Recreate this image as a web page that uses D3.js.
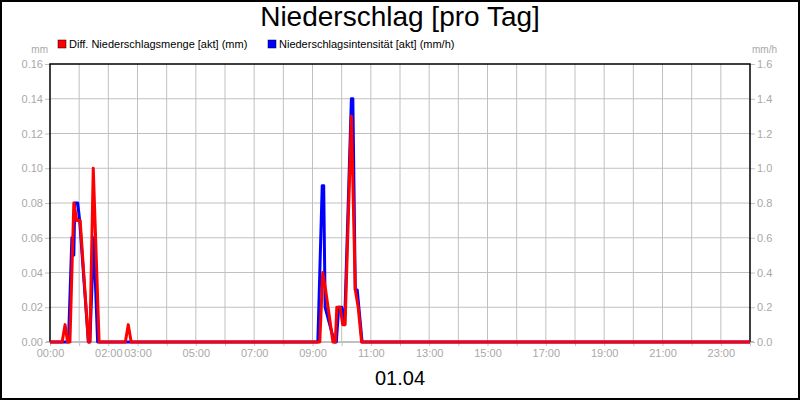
<!DOCTYPE html>
<html>
<head>
<meta charset="utf-8">
<script src="https://cdn.jsdelivr.net/npm/d3@7"></script>
<style>
  body { margin: 0; background: #fff; }
  svg { display: block; font-family: "Liberation Sans", Arial, sans-serif; }
</style>
</head>
<body>
<div id="chart"></div>
<script>
// tick labels
const xTickLabels = ["00:00", "02:00", "03:00", "05:00", "07:00", "09:00", "11:00",
    "13:00", "15:00", "17:00", "19:00", "21:00", "23:00"];
const yLeftTicks = [0, 0.02, 0.04, 0.06, 0.08, 0.10, 0.12, 0.14, 0.16];
const yRightTicks = [0, 0.2, 0.4, 0.6, 0.8, 1.0, 1.2, 1.4, 1.6];

// Diff. Niederschlagsmenge (mm)
const amountTimes = ["00:00", "00:25", "00:31", "00:36", "00:41", "00:49", "00:55", "01:02",
    "01:19", "01:22", "01:29", "01:41", "02:35", "02:41", "02:47",
    "09:15", "09:21", "09:27", "09:42", "09:47", "09:50", "09:57", "10:02", "10:07",
    "10:20", "10:28", "10:34", "10:41", "24:00"];
const amountValues = [0, 0, 0.01, 0, 0, 0.08, 0.07, 0.07,
    0, 0, 0.10, 0, 0, 0.01, 0,
    0, 0.04, 0.03, 0, 0, 0.02, 0.02, 0.01, 0.01,
    0.13, 0.03, 0.02, 0, 0];

// Niederschlagsintensität (mm/h)
const intensityTimes = ["00:00", "00:38", "00:45", "00:49", "00:51", "00:57", "01:01",
    "01:19", "01:22", "01:30", "01:38",
    "09:11", "09:20", "09:23", "09:26", "09:45", "09:49", "09:54", "10:00", "10:06",
    "10:20", "10:23", "10:28", "10:32", "10:42", "24:00"];
const intensityValues = [0, 0, 0.6, 0.5, 0.8, 0.8, 0.7,
    0, 0, 0.6, 0,
    0, 0.9, 0.9, 0.2, 0, 0, 0.2, 0.2, 0.1,
    1.4, 1.4, 0.3, 0.3, 0, 0];

const toMin = s => { const [h, m] = s.split(":").map(Number); return h * 60 + m; };

const W = 800, H = 400;
const margin = { top: 64, right: 50, bottom: 58, left: 50 };
const gridColor = "#c0c0c0";
const labelColor = "#a8a8a8";

const svg = d3.select("#chart").append("svg")
    .attr("width", W)
    .attr("height", H);

// outer frame
svg.append("rect")
    .attr("x", 1).attr("y", 1)
    .attr("width", W - 2).attr("height", H - 2)
    .attr("fill", "#fff")
    .attr("stroke", "#000")
    .attr("stroke-width", 2);

const x = d3.scaleLinear().domain([0, 1440]).range([margin.left, W - margin.right]);
const yL = d3.scaleLinear().domain([0, 0.16]).range([H - margin.bottom, margin.top]);
const yR = d3.scaleLinear().domain([0, 1.6]).range([H - margin.bottom, margin.top]);

// grid
const hours = d3.range(0, 25);
svg.append("g").selectAll("line")
    .data(hours.slice(1, 24))
    .join("line")
    .attr("x1", d => x(d * 60)).attr("x2", d => x(d * 60))
    .attr("y1", yL(0)).attr("y2", yL(0.16))
    .attr("stroke", gridColor);
svg.append("g").selectAll("line")
    .data(yLeftTicks.slice(1, -1))
    .join("line")
    .attr("x1", x(0)).attr("x2", x(1440))
    .attr("y1", d => yL(d)).attr("y2", d => yL(d))
    .attr("stroke", gridColor);

// axes
const labelMins = xTickLabels.map(toMin);
const xAxis = svg.append("g")
    .attr("transform", `translate(0,${yL(0)})`)
    .call(d3.axisBottom(x)
        .tickValues(hours.map(h => h * 60))
        .tickSize(4)
        .tickPadding(3)
        .tickFormat(d => {
            const i = labelMins.indexOf(d);
            return i >= 0 ? xTickLabels[i] : "";
        }));
xAxis.select(".domain").remove();

const yAxisL = svg.append("g")
    .attr("transform", `translate(${x(0)},0)`)
    .call(d3.axisLeft(yL).tickValues(yLeftTicks).tickSize(5).tickPadding(2).tickFormat(d3.format(".2f")));
yAxisL.select(".domain").remove();

const yAxisR = svg.append("g")
    .attr("transform", `translate(${x(1440)},0)`)
    .call(d3.axisRight(yR).tickValues(yRightTicks).tickSize(5).tickPadding(2).tickFormat(d3.format(".1f")));
yAxisR.select(".domain").remove();

svg.selectAll(".tick line").attr("stroke", gridColor);
svg.selectAll(".tick text")
    .attr("fill", labelColor)
    .style("font-size", "11px")
    .style("font-family", "'Liberation Sans', Arial, sans-serif");

// zero line (gray, reaches past the frame)
svg.append("line")
    .attr("x1", x(0) - 4).attr("x2", x(1440) + 4)
    .attr("y1", yL(0)).attr("y2", yL(0))
    .attr("stroke", gridColor).attr("stroke-width", 2);

// plot frame: left, top, right in black
svg.append("path")
    .attr("d", `M${x(0)},${yL(0)}V${yL(0.16)}H${x(1440)}V${yL(0)}`)
    .attr("fill", "none")
    .attr("stroke", "#000")
    .attr("stroke-width", 1.5);

// series
const intensity = intensityTimes.map((t, i) => ({ t: toMin(t), v: intensityValues[i] }));
const amount = amountTimes.map((t, i) => ({ t: toMin(t), v: amountValues[i] }));

svg.append("path")
    .datum(intensity)
    .attr("fill", "none")
    .attr("stroke", "#0000ff")
    .attr("stroke-width", 3)
    .attr("stroke-linejoin", "round")
    .attr("d", d3.line().x(d => x(d.t)).y(d => yR(d.v)));

svg.append("path")
    .datum(amount)
    .attr("fill", "none")
    .attr("stroke", "#ff0000")
    .attr("stroke-width", 3)
    .attr("stroke-linejoin", "round")
    .attr("d", d3.line().x(d => x(d.t)).y(d => yL(d.v)));

// unit labels
svg.append("text")
    .attr("x", 48).attr("y", 53)
    .attr("text-anchor", "end")
    .attr("fill", labelColor)
    .style("font-size", "10px")
    .text("mm");
svg.append("text")
    .attr("x", 752).attr("y", 53)
    .attr("fill", labelColor)
    .style("font-size", "10px")
    .text("mm/h");

// title
svg.append("text")
    .attr("x", W / 2).attr("y", 26)
    .attr("text-anchor", "middle")
    .style("font-size", "28px")
    .text("Niederschlag [pro Tag]");

// date label
svg.append("text")
    .attr("x", W / 2).attr("y", 385)
    .attr("text-anchor", "middle")
    .style("font-size", "20px")
    .text("01.04");

// legend
const legendItems = [
    { label: "Diff. Niederschlagsmenge [akt] (mm)", color: "#ff0000", x: 58 },
    { label: "Niederschlagsintensität [akt] (mm/h)", color: "#0000ff", x: 268 }
];
const legend = svg.selectAll(".legend")
    .data(legendItems)
    .join("g")
    .attr("class", "legend")
    .attr("transform", d => `translate(${d.x},40)`);
legend.append("rect")
    .attr("width", 8).attr("height", 8)
    .attr("fill", d => d.color)
    .attr("stroke", "#000")
    .attr("stroke-width", 0.5);
legend.append("text")
    .attr("x", 11).attr("y", 8)
    .style("font-size", "11px")
    .text(d => d.label);
</script>
</body>
</html>
